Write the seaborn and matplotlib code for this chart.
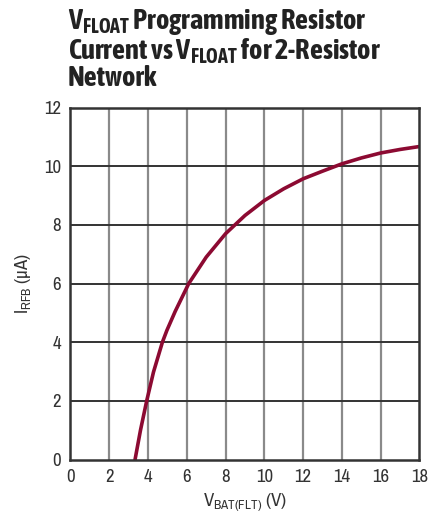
import matplotlib
matplotlib.use("Agg")
import matplotlib.pyplot as plt
import seaborn as sns
import pandas as pd

# values
v_bat = [3.33, 3.61, 3.93, 4.28, 4.74, 4.97, 5.4, 6.1, 7.0, 8.0, 9.0, 10.0, 11.0, 12.0, 13.0, 14.0, 15.0, 16.0, 17.0, 18.0]
i_rfb = [0.0, 1.0, 2.0, 2.98, 4.0, 4.4, 5.05, 6.0, 6.9, 7.7, 8.32, 8.83, 9.23, 9.57, 9.83, 10.08, 10.28, 10.45, 10.57, 10.67]
x_ticks = [0, 2, 4, 6, 8, 10, 12, 14, 16, 18]
y_ticks = [0, 2, 4, 6, 8, 10, 12]

df = pd.DataFrame({"v": v_bat, "i": i_rfb})

sns.set_style("white")
plt.rcParams["font.family"] = ["Archivo Narrow", "DejaVu Sans"]
plt.rcParams["mathtext.default"] = "regular"

fig = plt.figure(figsize=(4.35, 5.18), dpi=100)
ax = fig.add_axes([70.5 / 435, 1 - 459.5 / 518, 349 / 435, 352 / 518])

sns.lineplot(data=df, x="v", y="i", ax=ax, color="#8c0a32", linewidth=2.6)

ax.set_xlim(0, 18)
ax.set_ylim(0, 12)
ax.set_xticks(x_ticks)
ax.set_yticks(y_ticks)
ax.set_xticklabels([str(t) for t in x_ticks], fontsize=13.5, color="#333333")
ax.set_yticklabels([str(t) for t in y_ticks], fontsize=13.5, color="#333333")
ax.tick_params(length=0, pad=7)

for t in x_ticks[1:-1]:
    ax.axvline(t, color="#8a8a8a", linewidth=1.6, zorder=0)
for t in y_ticks[1:-1]:
    ax.axhline(t, color="#333333", linewidth=1.4, zorder=0)
for s in ax.spines.values():
    s.set_visible(True)
    s.set_color("#333333")
    s.set_linewidth(1.8)

ax.set_xlabel("V$_{BAT(FLT)}$ (V)", fontsize=13.5, color="#333333", labelpad=4)
ax.set_ylabel("I$_{RFB}$ (µA)", fontsize=13.5, color="#333333", labelpad=8)

fig.text(68 / 435, 1 - 7 / 518,
         "V$_{FLOAT}$ Programming Resistor\nCurrent vs V$_{FLOAT}$ for 2-Resistor\nNetwork",
         fontsize=20.5, fontweight="bold", color="#222222", va="top", ha="left",
         linespacing=0.96, family=["Asap Condensed", "DejaVu Sans"])

fig.savefig("out.png", dpi=100)
